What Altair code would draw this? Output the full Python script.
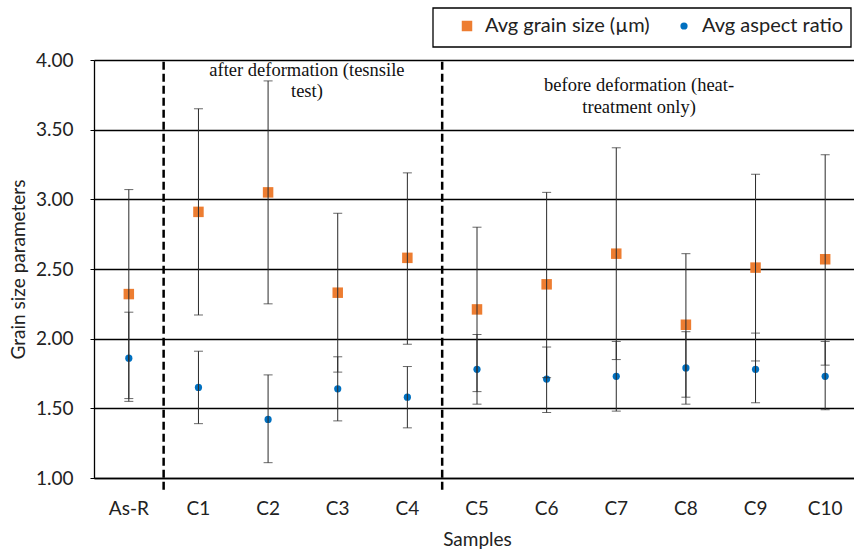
import altair as alt
import pandas as pd

samples = ["As-R", "C1", "C2", "C3", "C4", "C5", "C6", "C7", "C8", "C9", "C10"]
grain = [2.32, 2.91, 3.05, 2.33, 2.58, 2.21, 2.39, 2.61, 2.10, 2.51, 2.57]
grain_hi = [3.07, 3.65, 3.85, 2.90, 3.19, 2.80, 3.05, 3.37, 2.61, 3.18, 3.32]
grain_lo = [1.57, 2.17, 2.25, 1.76, 1.96, 1.62, 1.72, 1.85, 1.58, 1.84, 1.81]
aspect = [1.86, 1.65, 1.42, 1.64, 1.58, 1.78, 1.71, 1.73, 1.79, 1.78, 1.73]
aspect_hi = [2.19, 1.91, 1.74, 1.87, 1.80, 2.03, 1.94, 1.98, 2.05, 2.04, 1.98]
aspect_lo = [1.55, 1.39, 1.11, 1.41, 1.36, 1.53, 1.47, 1.48, 1.53, 1.54, 1.49]
series_names = ["Avg grain size (µm)", "Avg aspect ratio"]
y_ticks = [1.0, 1.5, 2.0, 2.5, 3.0, 3.5, 4.0]

boundaries = ["C1", "C5"]
notes = [
    {"sample": "C3", "y": 3.93, "text": "after deformation (tesnsile", "dx": 4},
    {"sample": "C3", "y": 3.775, "text": "test)", "dx": 4},
    {"sample": "C8", "y": 3.82, "text": "before deformation (heat-", "dx": -12},
    {"sample": "C8", "y": 3.665, "text": "treatment only)", "dx": -12},
]

rows = []
for i, s in enumerate(samples):
    rows.append({"sample": s, "series": series_names[0], "value": grain[i], "lo": grain_lo[i], "hi": grain_hi[i]})
    rows.append({"sample": s, "series": series_names[1], "value": aspect[i], "lo": aspect_lo[i], "hi": aspect_hi[i]})
df = pd.DataFrame(rows)

FONT = "Lato"
xscale = alt.Scale(domain=samples, range=[0, 766], paddingInner=0, paddingOuter=0)
yscale = alt.Scale(domain=[1, 4], nice=False, zero=False)

x_enc = alt.X("sample:N", scale=xscale, sort=samples,
              axis=alt.Axis(title="Samples", labelAngle=0, ticks=False, tickSize=0,
                            bandPosition=0.5, labelAlign="center",
                            labelPadding=21, titlePadding=12, domainColor="#000",
                            domainWidth=1.5, labelFontSize=19, titleFontSize=19,
                            labelColor="#222", titleColor="#222", labelFont=FONT,
                            titleFont=FONT, titleFontWeight="normal"))
y_enc = alt.Y("value:Q", scale=yscale,
              axis=alt.Axis(title="Grain size parameters", values=y_ticks, format=".2f",
                            grid=True, gridColor="#000", gridWidth=1.3,
                            domainColor="#000", domainWidth=1.3, tickColor="#000",
                            tickSize=4, labelPadding=17, titlePadding=7,
                            labelFontSize=19, titleFontSize=19, labelColor="#222",
                            titleColor="#222", labelFont=FONT, titleFont=FONT,
                            titleFontWeight="normal"))

base = alt.Chart(df)

legend = alt.Legend(title=None, orient="none", direction="horizontal",
                    legendX=363, legendY=-44, labelFontSize=20, labelFont=FONT,
                    labelColor="#222", columnPadding=24, symbolStrokeWidth=0,
                    labelOffset=8, padding=0, labelLimit=400)
points = base.mark_point(filled=True, opacity=1).encode(
    x=x_enc,
    y=y_enc,
    color=alt.Color("series:N", scale=alt.Scale(domain=series_names, range=["#ED7D31", "#0070C0"]), legend=legend),
    shape=alt.Shape("series:N", scale=alt.Scale(domain=series_names, range=["square", "circle"]), legend=legend),
    size=alt.Size("series:N", scale=alt.Scale(domain=series_names, range=[110, 52]), legend=legend),
)

ERR = "#2a2a2a"
err = base.mark_rule(color=ERR, strokeWidth=1).encode(
    x=alt.X("sample:N", scale=xscale, sort=samples),
    y=alt.Y("lo:Q", scale=yscale),
    y2="hi:Q",
)
cap_lo = base.mark_tick(color=ERR, thickness=1, size=9).encode(
    x=alt.X("sample:N", scale=xscale, sort=samples),
    y=alt.Y("lo:Q", scale=yscale),
)
cap_hi = base.mark_tick(color=ERR, thickness=1, size=9).encode(
    x=alt.X("sample:N", scale=xscale, sort=samples),
    y=alt.Y("hi:Q", scale=yscale),
)

bdf = pd.DataFrame({"sample": boundaries, "y0": [0.916] * 2, "y1": [4.01] * 2})
dashes = alt.Chart(bdf).mark_rule(color="#000", strokeWidth=2.5, strokeDash=[8, 4]).encode(
    x=alt.X("sample:N", scale=xscale, sort=samples, bandPosition=0),
    y=alt.Y("y0:Q", scale=yscale),
    y2="y1:Q",
)

ndf = pd.DataFrame(notes)
note_layers = []
for dxv in sorted(set(ndf["dx"])):
    sub = ndf[ndf["dx"] == dxv]
    note_layers.append(
        alt.Chart(sub).mark_text(font="Liberation Serif", fontSize=18.5, color="#111",
                                 align="center", baseline="middle", dx=int(dxv)).encode(
            x=alt.X("sample:N", scale=xscale, sort=samples, bandPosition=0),
            y=alt.Y("y:Q", scale=yscale),
            text="text:N",
        )
    )

box = alt.Chart(pd.DataFrame({"k": [0]})).mark_rect(fill=None, stroke="#000", strokeWidth=1.3).encode(
    x=alt.value(339), x2=alt.value(757), y=alt.value(-52), y2=alt.value(-13)
)

chart = alt.layer(points, err, cap_lo, cap_hi, dashes, *note_layers, box).properties(
    width=760, height=418,
    autosize=alt.AutoSizeParams(type="none"),
    padding={"left": 94, "top": 60, "right": 0, "bottom": 72},
).configure_view(strokeWidth=0).configure(font=FONT)

chart.save("out.html", embed_options={"renderer": "svg", "actions": False})
